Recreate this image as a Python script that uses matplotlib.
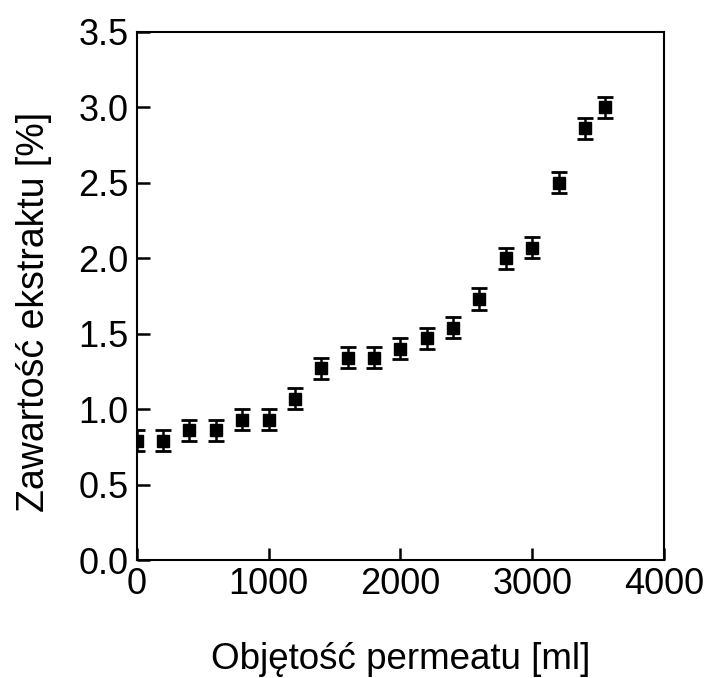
import matplotlib
matplotlib.use("Agg")
from matplotlib import pyplot as plt

volume = [0, 200, 400, 600, 800, 1000, 1200, 1400, 1600, 1800, 2000,
          2200, 2400, 2600, 2800, 3000, 3200, 3400, 3550]
extract = [0.79, 0.79, 0.86, 0.86, 0.93, 0.93, 1.07, 1.27, 1.34, 1.34, 1.40,
           1.47, 1.54, 1.73, 2.00, 2.07, 2.50, 2.86, 3.00]
error = [0.07] * len(volume)

plt.rcParams['font.family'] = ['Liberation Sans', 'DejaVu Sans']

fig = plt.figure(figsize=(7.08, 6.78), dpi=100)
ax = fig.add_axes([0.193, 0.174, 0.745, 0.779])

ax.errorbar(volume, extract, yerr=error, fmt='s', color='black',
            markersize=9, capsize=6, elinewidth=1.8, capthick=2)

ax.set_xlim(0, 4000)
ax.set_ylim(0, 3.5)
ax.set_xticks([0, 1000, 2000, 3000, 4000])
ax.set_yticks([0, 0.5, 1.0, 1.5, 2.0, 2.5, 3.0, 3.5])
ax.set_yticklabels(['0.0', '0.5', '1.0', '1.5', '2.0', '2.5', '3.0', '3.5'])
ax.tick_params(direction='in', length=9, width=1.8, labelsize=26)
ax.tick_params(axis='y', pad=6)
ax.tick_params(axis='x', pad=5)
for s in ax.spines.values():
    s.set_linewidth(1.5)

ax.set_xlabel('Objętość permeatu [ml]', fontsize=26.5, labelpad=29)
# label in the original sits a bit below the axis centre
ax.set_ylabel('Zawartość ekstraktu [%]', fontsize=27, labelpad=18.5, y=0.47)

fig.savefig('out.png', dpi=100)
